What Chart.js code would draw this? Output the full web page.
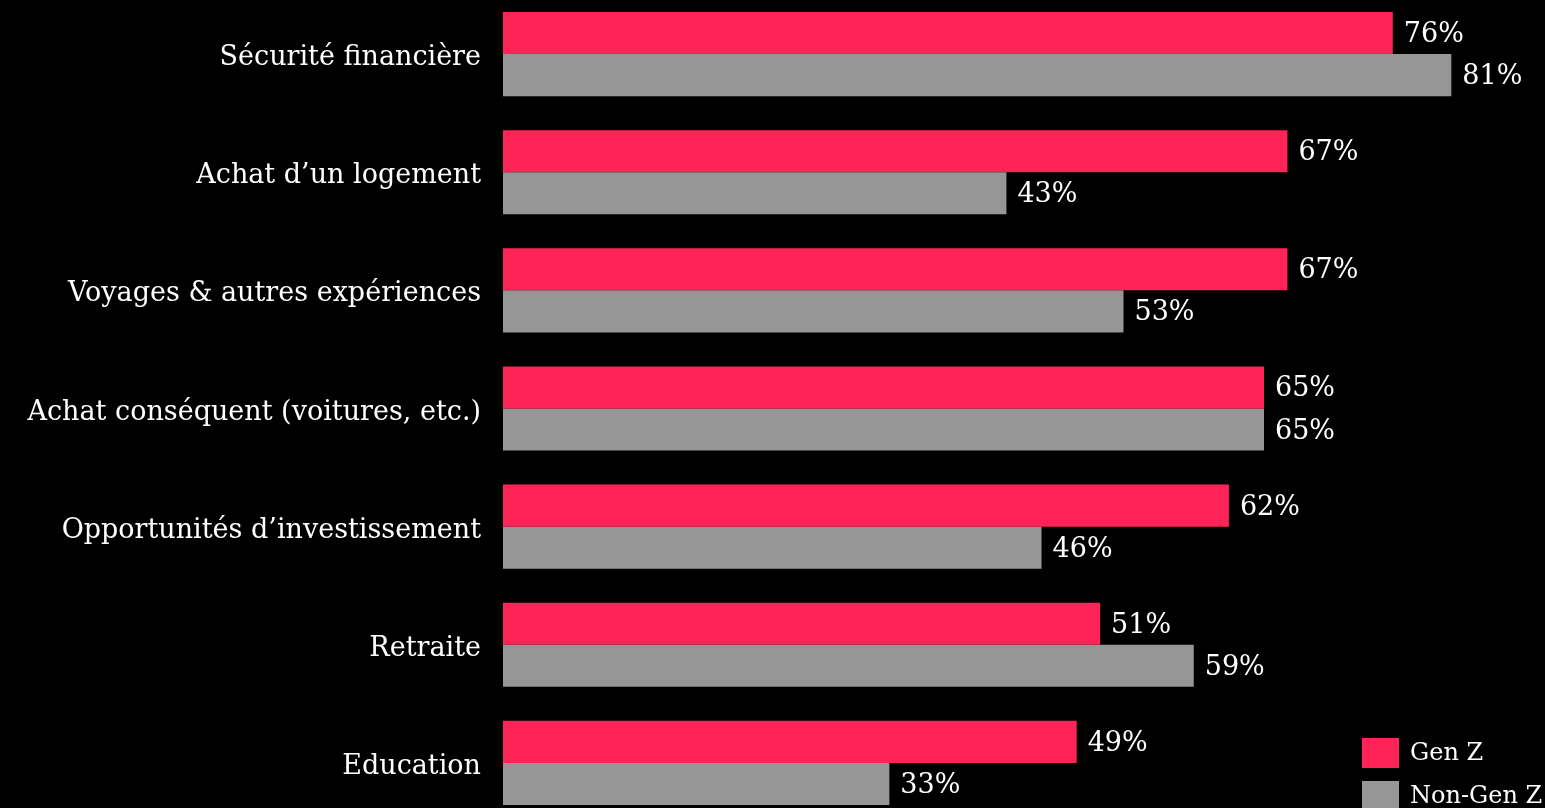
<!DOCTYPE html>
<html>
<head>
<meta charset="utf-8">
<script src="https://cdn.jsdelivr.net/npm/chart.js@4"></script>
<style>
  html, body { margin: 0; padding: 0; background: #000; overflow: hidden; }
  #wrap { position: absolute; left: 0; top: -5px; width: 1545px; height: 827px; }
</style>
</head>
<body>
<div id="wrap"><canvas id="chart"></canvas></div>
<script>
const categories = [
  "Sécurité financière",
  "Achat d’un logement",
  "Voyages & autres expériences",
  "Achat conséquent (voitures, etc.)",
  "Opportunités d’investissement",
  "Retraite",
  "Education"
];
const genZ = [76, 67, 67, 65, 62, 51, 49];
const nonGenZ = [81, 43, 53, 65, 46, 59, 33];
const seriesNames = ["Gen Z", "Non-Gen Z"];

const PINK = "#ff2458";
const GREY = "#969696";
const FONT = "'DejaVu Serif', 'Liberation Serif', serif";

// valeurs en bout de barre
const valueLabels = {
  id: "valueLabels",
  afterDatasetsDraw(chart) {
    const { ctx } = chart;
    ctx.save();
    ctx.fillStyle = "#fff";
    ctx.font = "27px " + FONT;
    ctx.textBaseline = "middle";
    ctx.textAlign = "left";
    chart.data.datasets.forEach((ds, i) => {
      chart.getDatasetMeta(i).data.forEach((bar, j) => {
        ctx.fillText(ds.data[j] + "%", bar.x + 11, bar.y + 2);
      });
    });
    ctx.restore();
  }
};

// légende en bas à droite
const cornerLegend = {
  id: "cornerLegend",
  afterDraw(chart) {
    const { ctx } = chart;
    ctx.save();
    ctx.font = "24px " + FONT;
    ctx.textBaseline = "middle";
    chart.data.datasets.forEach((ds, i) => {
      const y = 743 + i * 43; // canvas décalé de 5px
      ctx.fillStyle = ds.backgroundColor;
      ctx.fillRect(1362, y, 37, 30);
      ctx.fillStyle = "#fff";
      ctx.fillText(ds.label, 1410, y + 16);
    });
    ctx.restore();
  }
};

new Chart(document.getElementById("chart"), {
  type: "bar",
  data: {
    labels: categories,
    datasets: [
      { label: seriesNames[0], data: genZ, backgroundColor: PINK },
      { label: seriesNames[1], data: nonGenZ, backgroundColor: GREY }
    ]
  },
  options: {
    indexAxis: "y",
    responsive: true,
    maintainAspectRatio: false,
    animation: false,
    barPercentage: 1,
    categoryPercentage: 0.712,
    layout: { padding: 0 },
    scales: {
      x: {
        display: false,
        min: 0,
        max: 89
      },
      y: {
        grid: { display: false },
        border: { display: false },
        ticks: {
          color: "#fff",
          padding: 14,
          labelOffset: 4,
          font: { family: FONT, size: 27 }
        },
        afterFit(scale) {
          scale.width = 503;
          scale.paddingTop = 0;
          scale.paddingBottom = 0;
        }
      }
    },
    plugins: {
      legend: { display: false },
      tooltip: { enabled: false }
    }
  },
  plugins: [valueLabels, cornerLegend]
});
</script>
</body>
</html>
